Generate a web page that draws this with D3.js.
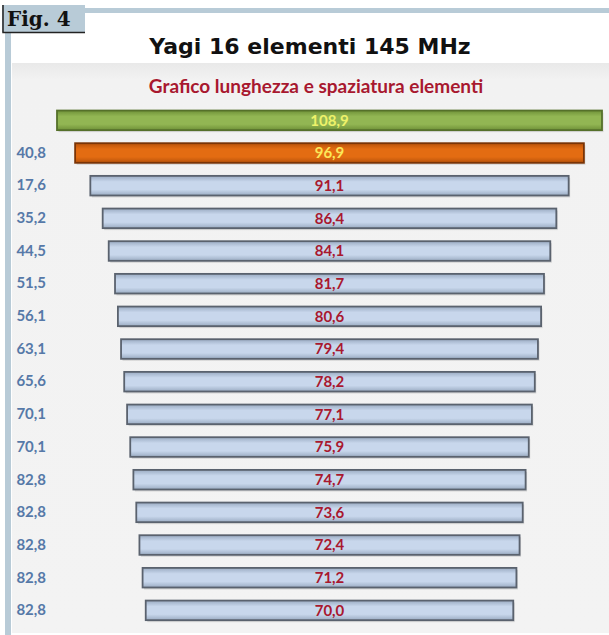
<html>
<head>
<meta charset="utf-8">
<script src="https://cdn.jsdelivr.net/npm/d3@7"></script>
<style>
  body { margin: 0; background: #fff; }
</style>
</head>
<body>
<script>

const W = 609, H = 635;

// element lengths (cm) and spacing (cm)
const lengths = [108.9, 96.9, 91.1, 86.4, 84.1, 81.7, 80.6, 79.4, 78.2, 77.1, 75.9, 74.7, 73.6, 72.4, 71.2, 70.0];
const spacing = ["", "40,8", "17,6", "35,2", "44,5", "51,5", "56,1", "63,1", "65,6", "70,1", "70,1", "82,8", "82,8", "82,8", "82,8", "82,8"];
const kinds   = ["refl", "drv", "dir", "dir", "dir", "dir", "dir", "dir", "dir", "dir", "dir", "dir", "dir", "dir", "dir", "dir"];

const fmt = v => v.toFixed(1).replace(".", ",");

const svg = d3.select("body").append("svg")
  .attr("width", W)
  .attr("height", H)
  .style("display", "block");

const defs = svg.append("defs");

function grad(id, edge, mid) {
  const g = defs.append("linearGradient").attr("id", id)
    .attr("x1", 0).attr("y1", 0).attr("x2", 0).attr("y2", 1);
  g.append("stop").attr("offset", "0%").attr("stop-color", edge);
  g.append("stop").attr("offset", "30%").attr("stop-color", mid);
  g.append("stop").attr("offset", "70%").attr("stop-color", mid);
  g.append("stop").attr("offset", "100%").attr("stop-color", edge);
}
grad("g-refl", "#6f9138", "#92b653");
grad("g-drv", "#b8520a", "#e36c12");
grad("g-dir", "#9aabc2", "#c8d7ec");

const bg = defs.append("linearGradient").attr("id", "g-bg")
  .attr("x1", 0).attr("y1", 0).attr("x2", 0).attr("y2", 1);
bg.append("stop").attr("offset", "0%").attr("stop-color", "#e9e9e9");
bg.append("stop").attr("offset", "3%").attr("stop-color", "#f2f2f2");
bg.append("stop").attr("offset", "100%").attr("stop-color", "#f3f3f3");

const fills   = { refl: "url(#g-refl)", drv: "url(#g-drv)", dir: "url(#g-dir)" };
const strokes = { refl: "#55702a", drv: "#7a3406", dir: "#5a626e" };
const txtCol  = { refl: "#eef26a", drv: "#fbe85a", dir: "#a8182f" };

// frame
svg.append("rect").attr("x", 12).attr("y", 63).attr("width", W - 12).attr("height", 570)
  .attr("fill", "url(#g-bg)");
svg.append("rect").attr("x", 85).attr("y", 8).attr("width", W - 85).attr("height", 5)
  .attr("fill", "#b8cbd7");
svg.append("rect").attr("x", 5).attr("y", 32).attr("width", 6).attr("height", H - 32)
  .attr("fill", "#b8cbd7");
svg.append("rect").attr("x", 2).attr("y", 5).attr("width", 83).attr("height", 27)
  .attr("fill", "#b8cbd7");
svg.append("path").attr("d", "M3,5V32.5H85").attr("fill", "none")
  .attr("stroke", "#222").attr("stroke-width", 1.5);
svg.append("text").attr("x", 7).attr("y", 26)
  .attr("font-family", "DejaVu Serif").attr("font-weight", "bold").attr("font-size", 20)
  .attr("fill", "#111").text("Fig. 4");

svg.append("text").attr("x", 310).attr("y", 54).attr("text-anchor", "middle")
  .attr("font-family", "DejaVu Sans").attr("font-weight", "bold").attr("font-size", 22)
  .attr("fill", "#111").text("Yagi 16 elementi 145 MHz");

svg.append("text").attr("x", 316).attr("y", 93).attr("text-anchor", "middle")
  .attr("font-family", "Lato, Open Sans").attr("font-weight", "bold").attr("font-size", 19)
  .attr("fill", "#a8182f").text("Grafico lunghezza e spaziatura elementi");

// scales: bars are centred, spanning -v/2 .. v/2
const x = d3.scaleLinear().domain([-51.9, 51.9]).range([57, 602]).clamp(true);
const y = d3.scaleBand().domain(d3.range(lengths.length))
  .range([104, 626.7]).paddingInner(0.4).paddingOuter(0.2);

const chart = svg.append("g");

const yAxis = chart.append("g")
  .attr("transform", "translate(57,0)")
  .call(d3.axisLeft(y).tickSize(0).tickPadding(11).tickFormat(i => spacing[i]));
yAxis.select(".domain").remove();
yAxis.selectAll("text")
  .attr("font-family", "Lato, Open Sans").attr("font-weight", "bold").attr("font-size", 15)
  .attr("fill", "#5679a8");

const rows = chart.selectAll(".row")
  .data(lengths)
  .enter().append("g").attr("class", "row");

rows.append("rect")
  .attr("x", d => x(-d / 2) + 1.5)
  .attr("y", (d, i) => y(i) + 2)
  .attr("width", d => x(d / 2) - x(-d / 2))
  .attr("height", y.bandwidth())
  .attr("fill", "#000").attr("opacity", 0.12);

rows.append("rect")
  .attr("x", d => x(-d / 2))
  .attr("y", (d, i) => y(i))
  .attr("width", d => x(d / 2) - x(-d / 2))
  .attr("height", y.bandwidth())
  .attr("fill", (d, i) => fills[kinds[i]])
  .attr("stroke", (d, i) => strokes[kinds[i]])
  .attr("stroke-width", 1.8);

rows.append("text")
  .attr("x", x(0))
  .attr("y", (d, i) => y(i) + y.bandwidth() / 2)
  .attr("dy", "0.36em")
  .attr("text-anchor", "middle")
  .attr("font-family", "Lato, Open Sans").attr("font-weight", "bold").attr("font-size", 15)
  .attr("fill", (d, i) => txtCol[kinds[i]])
  .text(d => fmt(d));

</script>
</body>
</html>
